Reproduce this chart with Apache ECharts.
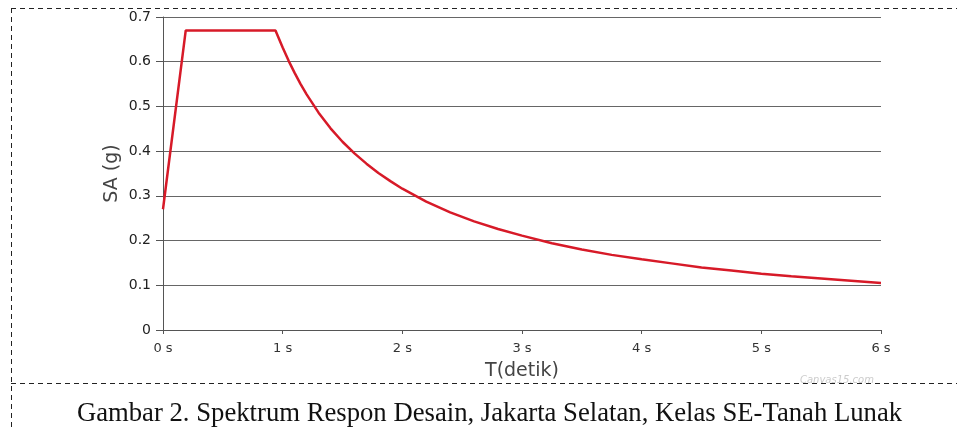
<!DOCTYPE html>
<html><head><meta charset="utf-8">
<script src="https://cdn.jsdelivr.net/npm/echarts@6/dist/echarts.min.js"></script>
<style>html,body{margin:0;padding:0;background:#fff}#c{width:957px;height:427px}</style>
</head><body><div id="c"></div>
<script>
const periods = [0, 0.19, 0.94, 1.0, 1.05, 1.1, 1.15, 1.2, 1.3, 1.4, 1.5, 1.6, 1.7, 1.8, 1.9, 2.0, 2.2, 2.4, 2.6, 2.8, 3.0, 3.25, 3.5, 3.75, 4.0, 4.25, 4.5, 4.75, 5.0, 5.25, 5.5, 5.75, 6.0];
const saValues = [0.27, 0.67, 0.67, 0.632, 0.602, 0.575, 0.55, 0.527, 0.486, 0.451, 0.421, 0.395, 0.372, 0.351, 0.333, 0.316, 0.287, 0.263, 0.243, 0.226, 0.211, 0.194, 0.18, 0.168, 0.158, 0.149, 0.14, 0.133, 0.126, 0.12, 0.115, 0.11, 0.105];
const yTicks = [0, 0.1, 0.2, 0.3, 0.4, 0.5, 0.6, 0.7];
const xTicks = [0, 1, 2, 3, 4, 5, 6];
const caption = 'Gambar 2. Spektrum Respon Desain, Jakarta Selatan, Kelas SE-Tanah Lunak';

const chart = echarts.init(document.getElementById('c'), null, {renderer: 'canvas'});
const dash = {stroke: '#222', lineWidth: 1, lineDash: [5, 4]};
const sans = '"DejaVu Sans", Verdana, sans-serif';
chart.setOption({
  animation: false,
  grid: {left: 163, right: 76, top: 17, bottom: 97, containLabel: false},
  xAxis: {
    type: 'value', min: xTicks[0], max: xTicks[xTicks.length - 1], interval: 1,
    name: 'T(detik)', nameLocation: 'middle', nameGap: 32,
    nameTextStyle: {fontFamily: sans, fontSize: 19, color: '#444'},
    axisLine: {show: true, lineStyle: {color: '#555', width: 1}},
    axisTick: {show: true, length: 4, lineStyle: {color: '#555'}},
    axisLabel: {formatter: v => v + ' s', fontFamily: sans, fontSize: 13, color: '#333', margin: 12},
    splitLine: {show: false}
  },
  yAxis: {
    type: 'value', min: yTicks[0], max: yTicks[yTicks.length - 1], interval: 0.1,
    name: 'SA (g)', nameLocation: 'middle', nameGap: 41, nameRotate: 90, nameMoveOverlap: false,
    nameTextStyle: {fontFamily: sans, fontSize: 19, color: '#444'},
    axisLine: {show: true, lineStyle: {color: '#555', width: 1}},
    axisTick: {show: true, length: 7, lineStyle: {color: '#555'}},
    axisLabel: {formatter: v => String(+v.toFixed(1)), fontFamily: sans, fontSize: 14, color: '#222', margin: 12},
    splitLine: {show: true, lineStyle: {color: '#666', width: 1}}
  },
  series: [{
    type: 'line', data: periods.map((t, i) => [t, saValues[i]]),
    showSymbol: false, smooth: false,
    lineStyle: {color: '#d71a28', width: 2.5}, z: 5
  }],
  graphic: [
    {type: 'line', shape: {x1: 11, y1: 8.5, x2: 957, y2: 8.5}, style: dash, silent: true},
    {type: 'line', shape: {x1: 11.5, y1: 8, x2: 11.5, y2: 427}, style: dash, silent: true},
    {type: 'line', shape: {x1: 11, y1: 383.5, x2: 957, y2: 383.5}, style: dash, silent: true},
    {type: 'text', left: 800, top: 375, style: {text: 'Canvas15.com', fill: '#cccccc', font: 'italic 10px "DejaVu Sans", sans-serif'}, silent: true},
    {type: 'text', x: 489.5, y: 414, style: {text: caption, fill: '#111', align: 'center', verticalAlign: 'middle', font: '26.7px "Liberation Serif", "Times New Roman", serif'}, silent: true}
  ]
});
</script></body></html>
